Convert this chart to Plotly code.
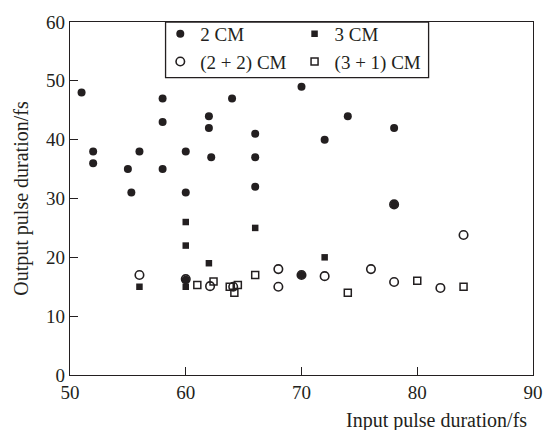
import plotly.graph_objects as go

# ---- data ----
cm2_x = [51, 52, 52, 55, 55.3, 56, 58, 58, 58, 60, 60, 60, 62, 62, 62.2, 64, 66, 66, 66, 70, 70, 72, 74, 78, 78]
cm2_y = [48, 38, 36, 35, 31, 38, 47, 43, 35, 38, 31, 16.2, 44, 42, 37, 47, 41, 37, 32, 49, 17, 40, 44, 42, 29]

cm3_x = [56, 60, 60, 60, 62, 66, 72]
cm3_y = [15, 15, 22, 26, 19, 25, 20]

cm22_x = [56, 60, 62.1, 64.1, 68, 68, 70, 72, 76, 78, 78, 82, 84]
cm22_y = [17, 16.3, 15.1, 15, 18, 15, 17, 16.8, 18, 15.8, 29, 14.8, 23.8]

cm31_x = [61, 62.4, 63.8, 64.2, 64.5, 66, 74, 80, 84]
cm31_y = [15.3, 15.9, 15, 14, 15.3, 17, 14, 16, 15]

x_ticks = [50, 60, 70, 80, 90]
y_ticks = [0, 10, 20, 30, 40, 50, 60]

INK = "#231f20"
FONT = "Liberation Serif"

fig = go.Figure()
fig.add_trace(go.Scatter(x=cm2_x, y=cm2_y, mode="markers", name="2 CM", legend="legend",
                         marker=dict(symbol="circle", size=8, color=INK, line=dict(width=0))))
fig.add_trace(go.Scatter(x=cm3_x, y=cm3_y, mode="markers", name="3 CM", legend="legend2",
                         marker=dict(symbol="square", size=6.5, color=INK, line=dict(width=0))))
fig.add_trace(go.Scatter(x=cm22_x, y=cm22_y, mode="markers", name="(2 + 2) CM", legend="legend",
                         marker=dict(symbol="circle-open", size=8.5, color=INK, line=dict(width=1.6, color=INK))))
fig.add_trace(go.Scatter(x=cm31_x, y=cm31_y, mode="markers", name="(3 + 1) CM", legend="legend2",
                         marker=dict(symbol="square-open", size=7, color=INK, line=dict(width=1.5, color=INK))))

axis_common = dict(showline=True, linecolor=INK, linewidth=1.3, mirror=True,
                   ticks="inside", ticklen=8, tickwidth=1.3, tickcolor=INK,
                   showgrid=False, zeroline=False,
                   tickfont=dict(family=FONT, size=19, color=INK))

fig.update_xaxes(range=[50, 90], tickvals=x_ticks, ticktext=[str(v) for v in x_ticks], **axis_common)
fig.update_yaxes(range=[0, 60], tickvals=y_ticks, ticktext=[str(v) for v in y_ticks],
                 title=dict(text="Output pulse duration/fs", font=dict(family=FONT, size=20, color=INK), standoff=12),
                 **axis_common)

legend_common = dict(orientation="v", yanchor="top", y=1.02, xanchor="left",
                     bgcolor="rgba(0,0,0,0)", borderwidth=0,
                     font=dict(family=FONT, size=19, color=INK),
                     itemwidth=30, tracegroupgap=0)

fig.update_layout(
    width=555, height=430,
    margin=dict(l=70, r=15, t=19, b=55),
    paper_bgcolor="white", plot_bgcolor="white",
    font=dict(family=FONT, color=INK),
    legend=dict(x=0.195, **legend_common),
    legend2=dict(x=0.485, **legend_common),
    shapes=[dict(type="rect", xref="paper", yref="paper",
                 x0=0.2064, x1=0.7745, y0=0.8427, y1=1.0,
                 line=dict(color=INK, width=1.3), fillcolor="white", layer="below")],
    annotations=[dict(text="Input pulse duration/fs", xref="paper", yref="paper",
                      x=1.0, xanchor="right", xshift=-4, y=-0.09, yanchor="top",
                      showarrow=False, font=dict(family=FONT, size=20, color=INK))],
)

# remove the browser's default 8px body margin so the figure sits at the page origin
fig.write_html("out.html", config={"displayModeBar": False},
               post_script="document.body.style.margin='0';")
